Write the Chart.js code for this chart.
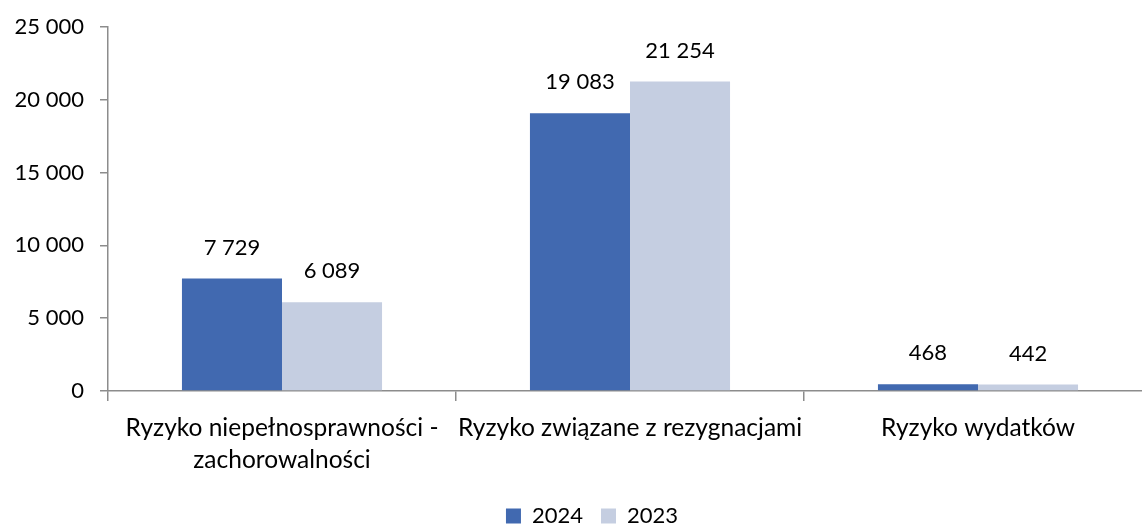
<!DOCTYPE html>
<html>
<head>
<meta charset="utf-8">
<script src="https://cdn.jsdelivr.net/npm/chart.js@4"></script>
<style>
  html, body { margin: 0; padding: 0; background: #fff; overflow: hidden; }
  #wrap { width: 1152px; height: 525px; position: relative; }
</style>
</head>
<body>
<div id="wrap"><canvas id="riskChart"></canvas></div>
<script>
const categories = [
  ["Ryzyko niepełnosprawności -", "zachorowalności"],
  "Ryzyko związane z rezygnacjami",
  "Ryzyko wydatków"
];
const values2024 = [7729, 19083, 468];
const values2023 = [6089, 21254, 442];
const yTicks = [0, 5000, 10000, 15000, 20000, 25000];

const fmt = (v) => String(v).replace(/\B(?=(\d{3})+(?!\d))/g, " ");
const FONT = "Lato, 'Open Sans', sans-serif";

// etykiety wartosci nad slupkami
const valueLabels = {
  id: "valueLabels",
  beforeDraw(chart) {
    // legenda w oryginale jest troche w prawo od srodka
    chart.legend.left += 16;
    chart.legend.right += 16;
  },
  afterDatasetsDraw(chart) {
    const ctx = chart.ctx;
    ctx.save();
    ctx.font = "22px " + FONT;
    ctx.fillStyle = "#000";
    ctx.textAlign = "center";
    ctx.textBaseline = "middle";
    chart.data.datasets.forEach((ds, i) => {
      chart.getDatasetMeta(i).data.forEach((bar, j) => {
        ctx.fillText(fmt(ds.data[j]), bar.x, bar.y - 31);
      });
    });
    ctx.restore();
  }
};

new Chart(document.getElementById("riskChart").getContext("2d"), {
  type: "bar",
  data: {
    labels: categories,
    datasets: [
      { label: "2024", data: values2024, backgroundColor: "#4169B0" },
      { label: "2023", data: values2023, backgroundColor: "#C5CEE1" }
    ]
  },
  options: {
    responsive: true,
    maintainAspectRatio: false,
    animation: false,
    layout: { padding: { top: 0, right: 0, left: 0, bottom: -12 } },
    datasets: { bar: { categoryPercentage: 0.575, barPercentage: 1 } },
    plugins: {
      tooltip: { enabled: false },
      legend: {
        position: "bottom",
        labels: {
          font: { family: FONT, size: 22, lineHeight: 1 },
          color: "#000",
          boxWidth: 15,
          boxHeight: 15,
          padding: 18
        }
      }
    },
    scales: {
      x: {
        border: { color: "#8c8c8c", width: 1.5 },
        grid: { drawOnChartArea: false, color: "#8c8c8c", tickLength: 10, lineWidth: 1.5 },
        ticks: { font: { family: FONT, size: 24.5, lineHeight: 1.27 }, color: "#000", padding: 12, maxRotation: 0 },
        afterFit(scale) { scale.height = 96; }
      },
      y: {
        min: 0,
        max: 25000,
        afterBuildTicks(scale) { scale.ticks = yTicks.map(v => ({ value: v })); },
        border: { color: "#8c8c8c", width: 1.5 },
        grid: { drawOnChartArea: false, color: "#8c8c8c", tickLength: 8, lineWidth: 1.5 },
        ticks: { font: { family: FONT, size: 22, lineHeight: 1 }, color: "#000", padding: 16, callback: (v) => fmt(v) },
        afterFit(scale) { scale.width = 108; }
      }
    }
  },
  plugins: [valueLabels]
});
</script>
</body>
</html>
